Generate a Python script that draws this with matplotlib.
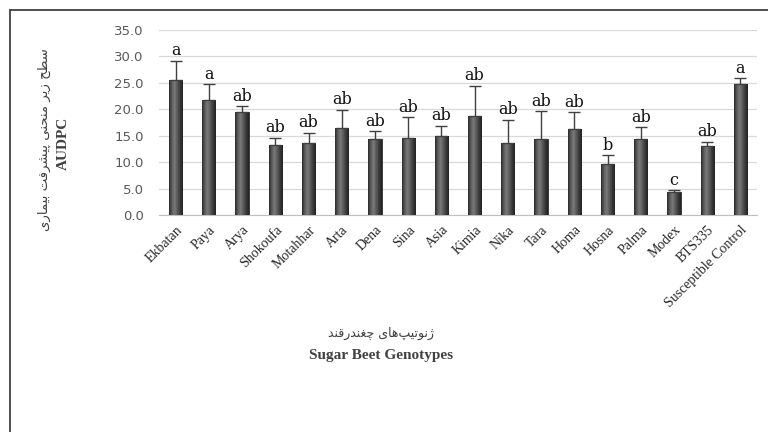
import numpy as np
import matplotlib
matplotlib.use("Agg")
import matplotlib.pyplot as plt
from matplotlib.colors import LinearSegmentedColormap
from matplotlib.patches import Rectangle

genotypes = ["Ekbatan", "Paya", "Arya", "Shokoufa", "Motahhar", "Arta", "Dena",
             "Sina", "Asia", "Kimia", "Nika", "Tara", "Homa", "Hosna", "Palma",
             "Modex", "BTS335", "Susceptible Control"]
audpc = [25.5, 21.7, 19.5, 13.3, 13.6, 16.5, 14.4, 14.6, 14.9, 18.7, 13.6,
         14.4, 16.3, 9.7, 14.4, 4.3, 13.0, 24.7]
err = [3.7, 3.0, 1.1, 1.3, 2.0, 3.4, 1.5, 3.9, 2.0, 5.8, 4.4, 5.2, 3.1, 1.6,
       2.2, 0.4, 0.9, 1.2]
letters = ["a", "a", "ab", "ab", "ab", "ab", "ab", "ab", "ab", "ab", "ab",
           "ab", "ab", "b", "ab", "c", "ab", "a"]

ylabel_fa = "سطح زیر منحنی پیشرفت بیماری"
xlabel_fa = "ژنوتیپ\u200cهای چغندرقند"

# presentation forms: isolated, final, initial, medial
FORMS = {
    "\u0627": ("\uFE8D", "\uFE8E", None, None),
    "\u0628": ("\uFE8F", "\uFE90", "\uFE91", "\uFE92"),
    "\u062A": ("\uFE95", "\uFE96", "\uFE97", "\uFE98"),
    "\u062D": ("\uFEA1", "\uFEA2", "\uFEA3", "\uFEA4"),
    "\u062E": ("\uFEA5", "\uFEA6", "\uFEA7", "\uFEA8"),
    "\u062F": ("\uFEA9", "\uFEAA", None, None),
    "\u0631": ("\uFEAD", "\uFEAE", None, None),
    "\u0632": ("\uFEAF", "\uFEB0", None, None),
    "\u0633": ("\uFEB1", "\uFEB2", "\uFEB3", "\uFEB4"),
    "\u0634": ("\uFEB5", "\uFEB6", "\uFEB7", "\uFEB8"),
    "\u0637": ("\uFEC1", "\uFEC2", "\uFEC3", "\uFEC4"),
    "\u063A": ("\uFECD", "\uFECE", "\uFECF", "\uFED0"),
    "\u0641": ("\uFED1", "\uFED2", "\uFED3", "\uFED4"),
    "\u0642": ("\uFED5", "\uFED6", "\uFED7", "\uFED8"),
    "\u0645": ("\uFEE1", "\uFEE2", "\uFEE3", "\uFEE4"),
    "\u0646": ("\uFEE5", "\uFEE6", "\uFEE7", "\uFEE8"),
    "\u0647": ("\uFEE9", "\uFEEA", "\uFEEB", "\uFEEC"),
    "\u0648": ("\uFEED", "\uFEEE", None, None),
    "\u06CC": ("\uFBFC", "\uFBFD", "\uFBFE", "\uFBFF"),
    "\u067E": ("\uFB56", "\uFB57", "\uFB58", "\uFB59"),
    "\u0686": ("\uFB7A", "\uFB7B", "\uFB7C", "\uFB7D"),
    "\u0698": ("\uFB8A", "\uFB8B", None, None),
}


def shape(s):
    # crude arabic-script shaping + reversal to visual order
    out = []
    for i, c in enumerate(s):
        if c not in FORMS:
            if c != "\u200c":
                out.append(c)
            continue
        iso, fin, ini, med = FORMS[c]
        prev = s[i - 1] if i > 0 else ""
        nxt = s[i + 1] if i + 1 < len(s) else ""
        jp = prev in FORMS and FORMS[prev][2] is not None
        jn = ini is not None and nxt in FORMS
        if jp and jn:
            out.append(med)
        elif jp:
            out.append(fin)
        elif jn:
            out.append(ini)
        else:
            out.append(iso)
    return "".join(reversed(out))


fig = plt.figure(figsize=(7.68, 4.32), dpi=100)
ax = fig.add_axes([159 / 768, 1 - 215 / 432, 598 / 768, 185 / 432])

x = np.arange(len(genotypes))
bars = ax.bar(x, audpc, width=0.4, color="#505050", edgecolor="#2a2a2a",
              linewidth=0.6, zorder=3)

cmap = LinearSegmentedColormap.from_list(
    "cyl", ["#2a2a2a", "#5c5c5c", "#7a7a7a", "#5a5a5a", "#3a3a3a", "#222222"])
grad = np.linspace(0, 1, 64).reshape(1, -1)
for b in bars:
    x0, w, h = b.get_x(), b.get_width(), b.get_height()
    im = ax.imshow(grad, cmap=cmap, extent=[x0, x0 + w, 0, h], aspect="auto",
                   zorder=3.5, interpolation="bilinear")
    im.set_clip_path(b)

ax.errorbar(x, audpc, yerr=[np.zeros(len(err)), err], fmt="none",
            ecolor="#404040", elinewidth=1, capsize=4.5, capthick=1, zorder=4)

for xi, m, e, l in zip(x, audpc, err, letters):
    ax.annotate(l, (xi, m + e), xytext=(0, 1), textcoords="offset points",
                ha="center", va="bottom", fontsize=11.5, family="DejaVu Serif",
                color="#111111", zorder=5)

ax.set_xlim(-0.5, len(genotypes) - 0.5)
ax.set_ylim(0, 35)
ax.set_yticks(np.arange(0, 36, 5))
ax.set_yticklabels(["{:.1f}".format(v) for v in np.arange(0, 36, 5)],
                   fontsize=9.5, color="#595959", family="DejaVu Sans")
ax.set_xticks(x)
ax.set_xticklabels(genotypes, rotation=45, ha="right", rotation_mode="anchor",
                   fontsize=10, family="Liberation Serif", color="#262626")
ax.tick_params(length=0)
ax.tick_params(axis="y", pad=11)
ax.tick_params(axis="x", pad=6)
ax.grid(axis="y", color="#d9d9d9", linewidth=0.9, zorder=0)
ax.set_axisbelow(True)
for s in ("top", "right", "left"):
    ax.spines[s].set_visible(False)
ax.spines["bottom"].set_color("#bfbfbf")
ax.spines["bottom"].set_zorder(2)

fig.text(44 / 768, 1 - 140 / 432, shape(ylabel_fa), rotation=90, ha="center",
         va="center", fontsize=9.5, family="DejaVu Sans", color="#404040")
fig.text(63 / 768, 1 - 143 / 432, "AUDPC", rotation=90, ha="center",
         va="center", fontsize=11, family="Liberation Serif",
         fontweight="bold", color="#404040")
fig.text(381 / 768, 1 - 333 / 432, shape(xlabel_fa), ha="center", va="center",
         fontsize=9, family="DejaVu Sans", color="#404040")
fig.text(381 / 768, 1 - 355 / 432, "Sugar Beet Genotypes", ha="center",
         va="center", fontsize=11, family="Liberation Serif",
         fontweight="bold", color="#404040")

fig.add_artist(Rectangle((10 / 768, -0.1), 1.2, 1 - 10 / 432 + 0.1,
                         transform=fig.transFigure, fill=False,
                         edgecolor="#404040", linewidth=1.3))

fig.savefig("out.png", dpi=100)
